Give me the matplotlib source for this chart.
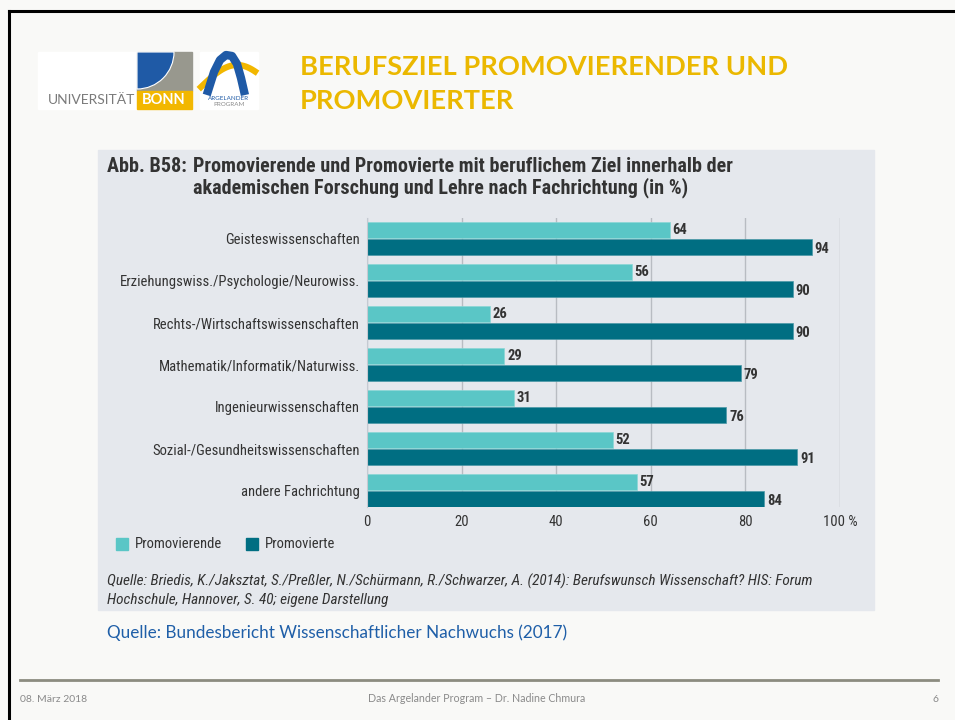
import numpy as np
import matplotlib
matplotlib.use("Agg")
import matplotlib.pyplot as plt
from matplotlib import font_manager
from matplotlib.patches import Rectangle, Wedge

# data
categories = [
    "Geisteswissenschaften",
    "Erziehungswiss./Psychologie/Neurowiss.",
    "Rechts-/Wirtschaftswissenschaften",
    "Mathematik/Informatik/Naturwiss.",
    "Ingenieurwissenschaften",
    "Sozial-/Gesundheitswissenschaften",
    "andere Fachrichtung",
]
promovierende = [64, 56, 26, 29, 31, 52, 57]
promovierte = [94, 90, 90, 79, 76, 91, 84]
xticks = [0, 20, 40, 60, 80, 100]
xticklabels = ["0", "20", "40", "60", "80", "100 %"]

LIGHT = "#5ac6c6"
DARK = "#006e82"
PANEL = "#e5e8ed"
TXT = "#333333"

names = {f.name for f in font_manager.fontManager.ttflist}
cond = "DejaVu Sans"
for n in ["Liberation Sans Narrow", "Roboto Condensed", "Open Sans Condensed"]:
    if n in names:
        cond = n
        break
slide_font = "Lato" if "Lato" in names else "DejaVu Sans"

W, H = 955, 720
fig = plt.figure(figsize=(W / 100, H / 100), dpi=100)
fig.patch.set_facecolor("#f9f9f7")

deco = fig.add_axes([0, 0, 1, 1], zorder=0)
deco.set_xlim(0, W)
deco.set_ylim(H, 0)
deco.axis("off")

# slide border (top and left)
deco.plot([9, W], [11, 11], color="black", lw=2.2)
deco.plot([9, 9], [11, H], color="black", lw=2.2)

# logos
deco.add_patch(Rectangle((38, 52), 154, 57, color="white"))
deco.add_patch(Rectangle((137, 52), 55, 39, color="#98988e"))
deco.add_patch(Wedge((137, 52), 37, 0, 90, color="#1f5aa6", ec="white", lw=0.8))
deco.add_patch(Rectangle((137, 91), 55, 18, color="#f2b700"))
deco.text(164, 100.5, "BONN", color="white", fontsize=10.5, fontweight="bold",
          family=slide_font, ha="center", va="center")
deco.text(135, 100.5, "UNIVERSITÄT", color="#7a7a7a", fontsize=10,
          family=slide_font, ha="right", va="center")
deco.add_patch(Rectangle((200, 52), 58, 57, color="white"))
s = np.linspace(0, 1, 40)
deco.plot(201 + 54 * s, 87 - 22 * np.sin(s * np.pi * 0.75), color="#f2b700", lw=4.5)
arch_x = [208, 214, 220, 226, 232, 237, 241, 244]
arch_y = [91, 72, 60, 55, 56, 64, 78, 91]
deco.plot(arch_x, arch_y, color="#1f5aa6", lw=6, solid_joinstyle="round")
deco.text(229, 98, "ARGELANDER", color="#1f5aa6", fontsize=4.5, family=slide_font,
          ha="center", va="center")
deco.text(229, 104.5, "PROGRAM", color="#8a8a8a", fontsize=4.5, family=slide_font,
          ha="center", va="center")

# slide title
deco.text(300, 67, "BERUFSZIEL PROMOVIERENDER UND", color="#ebb800", fontsize=19.6,
          fontweight="bold", family=slide_font, va="center")
deco.text(300, 101, "PROMOVIERTER", color="#ebb800", fontsize=19.6,
          fontweight="bold", family=slide_font, va="center")

# chart panel
deco.add_patch(Rectangle((98, 150), 776, 460, color=PANEL))
deco.text(107, 166, "Abb. B58:", color=TXT, fontsize=14.5, fontweight="bold",
          family=cond, va="center")
deco.text(193, 166, "Promovierende und Promovierte mit beruflichem Ziel innerhalb der",
          color=TXT, fontsize=14.5, fontweight="bold", family=cond, va="center")
deco.text(193, 188, "akademischen Forschung und Lehre nach Fachrichtung (in %)",
          color=TXT, fontsize=14.5, fontweight="bold", family=cond, va="center")

# legend
deco.add_patch(Rectangle((116, 538), 12, 12, color=LIGHT))
deco.text(135, 544, "Promovierende", color=TXT, fontsize=10.5, family=cond, va="center")
deco.add_patch(Rectangle((246, 538), 12, 12, color=DARK))
deco.text(265, 544, "Promovierte", color=TXT, fontsize=10.5, family=cond, va="center")

deco.text(107, 581, "Quelle: Briedis, K./Jaksztat, S./Preßler, N./Schürmann, R./Schwarzer, A. (2014): "
          "Berufswunsch Wissenschaft? HIS: Forum", color=TXT, fontsize=11, style="italic",
          family=cond, va="center")
deco.text(107, 600, "Hochschule, Hannover, S. 40; eigene Darstellung", color=TXT, fontsize=11,
          style="italic", family=cond, va="center")

deco.text(107, 633, "Quelle: Bundesbericht Wissenschaftlicher Nachwuchs (2017)", color="#1f5fa8",
          fontsize=12.3, family=slide_font, va="center")

# footer
deco.plot([20, 938], [680, 680], color="#8c8c80", lw=2)
deco.text(20, 699, "08. März 2018", color="#8a8a8a", fontsize=7.5, family=slide_font, va="center")
deco.text(477, 699, "Das Argelander Program – Dr. Nadine Chmura", color="#8a8a8a", fontsize=7.7,
          family=slide_font, va="center", ha="center")
deco.text(938, 699, "6", color="#8a8a8a", fontsize=7.5, family=slide_font, va="center", ha="right")

# bar chart
left, right, top, bottom = 367, 840, 218, 507
ax = fig.add_axes([left / W, 1 - bottom / H, (right - left) / W, (bottom - top) / H], zorder=1)
ax.set_facecolor("none")
y = np.arange(len(categories))
ax.barh(y - 0.2, promovierende, height=0.38, color=LIGHT, edgecolor="#8ad6d6", lw=0.5, zorder=3)
ax.barh(y + 0.2, promovierte, height=0.38, color=DARK, edgecolor="#4a98a6", lw=0.5, zorder=3)
for i in range(len(categories)):
    ax.text(promovierende[i] + 0.6, y[i] - 0.2, str(promovierende[i]), color=TXT, fontsize=10.5,
            fontweight="bold", family=cond, va="center")
    ax.text(promovierte[i] + 0.6, y[i] + 0.2 + 0.05, str(promovierte[i]), color=TXT, fontsize=10.5,
            fontweight="bold", family=cond, va="center")

ax.set_xlim(0, 100)
ax.set_ylim(6.39, -0.49)
ax.set_xticks(xticks)
ax.set_xticklabels(xticklabels, family=cond, fontsize=10.5, color=TXT)
ax.set_yticks(y)
ax.set_yticklabels(categories, family=cond, fontsize=10.5, color=TXT)
ax.tick_params(length=0, axis="x", pad=6)
ax.tick_params(length=0, axis="y", pad=5)
ax.grid(axis="x", color="#b8bcc2", lw=1, zorder=0)
for s_ in ["top", "right", "bottom"]:
    ax.spines[s_].set_visible(False)
ax.spines["left"].set_color("#c5cad2")
ax.spines["left"].set_zorder(4)

fig.savefig("out.png", dpi=100, facecolor=fig.get_facecolor())
